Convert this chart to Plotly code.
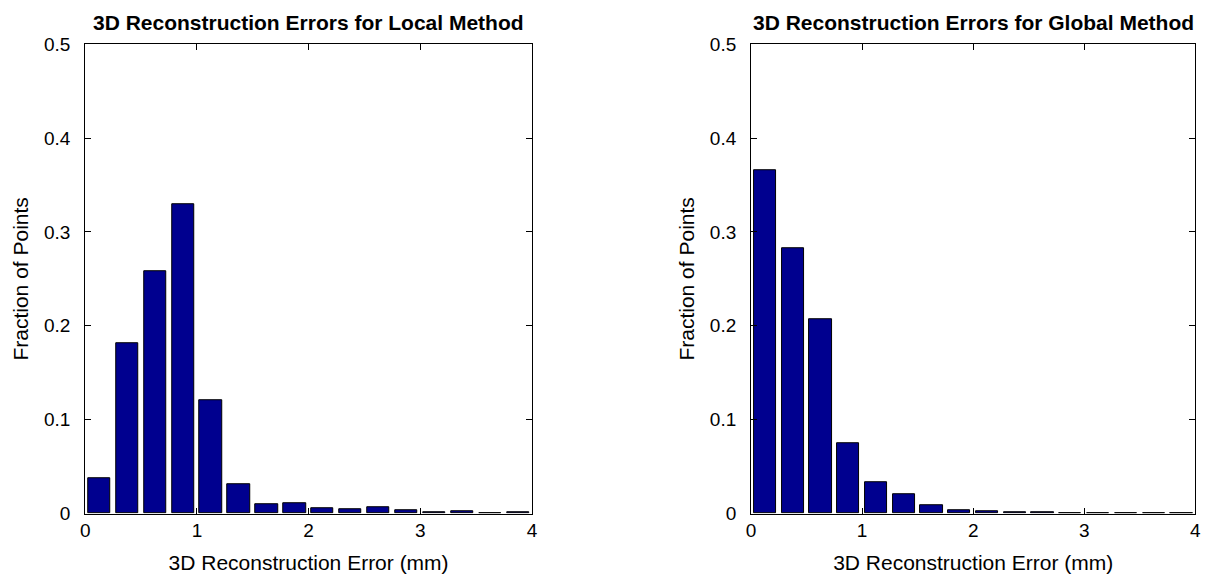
import plotly.graph_objects as go

bin_centers = [0.125, 0.375, 0.625, 0.875, 1.125, 1.375, 1.625, 1.875,
               2.125, 2.375, 2.625, 2.875, 3.125, 3.375, 3.625, 3.875]
local_frac = [0.038, 0.181, 0.258, 0.329, 0.121, 0.031, 0.010, 0.011,
              0.006, 0.005, 0.007, 0.004, 0.001, 0.002, 0.0005, 0.001]
global_frac = [0.366, 0.283, 0.207, 0.075, 0.033, 0.021, 0.009, 0.004,
               0.002, 0.0012, 0.0012, 0.0005, 0.0005, 0.0003, 0.0003, 0.0003]
x_ticks = [0, 1, 2, 3, 4]
y_ticks = [0, 0.1, 0.2, 0.3, 0.4, 0.5]
titles = ["3D Reconstruction Errors for Local Method",
          "3D Reconstruction Errors for Global Method"]
x_title = "3D Reconstruction Error (mm)"
y_title = "Fraction of Points"

FONT = "Liberation Sans, Arial, sans-serif"
BAR = "#00008F"

fig = go.Figure()
fig.add_trace(go.Bar(x=bin_centers, y=local_frac, width=0.2,
                     marker=dict(color=BAR, line=dict(color="black", width=1)),
                     xaxis="x", yaxis="y", showlegend=False))
fig.add_trace(go.Bar(x=bin_centers, y=global_frac, width=0.2,
                     marker=dict(color=BAR, line=dict(color="black", width=1)),
                     xaxis="x2", yaxis="y2", showlegend=False))

ydom = [0.112, 0.953]
xdom1 = [0.060, 0.431]
xdom2 = [0.613, 0.982]


def ax(**kw):
    d = dict(showline=True, linecolor="black", linewidth=1, mirror="ticks",
             ticks="inside", ticklen=6, tickcolor="black", showgrid=False,
             zeroline=False, tickfont=dict(family=FONT, size=19, color="black"))
    d.update(kw)
    return d


ytext = [("0" if v == 0 else f"{v:.1f}") for v in y_ticks]
xtext = [str(v) for v in x_ticks]
tfont = dict(family=FONT, size=21, color="black")

fig.update_layout(
    width=1215, height=579,
    margin=dict(l=0, r=0, t=0, b=0),
    paper_bgcolor="white", plot_bgcolor="white",
    bargap=0,
    xaxis=ax(domain=xdom1, range=[0, 4], tickvals=x_ticks, ticktext=xtext, anchor="y",
             title=dict(text=x_title, standoff=14, font=tfont)),
    yaxis=ax(domain=ydom, range=[0, 0.5], tickvals=y_ticks, ticktext=ytext, anchor="x",
             ticklabelstandoff=10,
             title=dict(text=y_title, standoff=9, font=tfont)),
    xaxis2=ax(domain=xdom2, range=[0, 4], tickvals=x_ticks, ticktext=xtext, anchor="y2",
              title=dict(text=x_title, standoff=14, font=tfont)),
    yaxis2=ax(domain=ydom, range=[0, 0.5], tickvals=y_ticks, ticktext=ytext, anchor="x2",
              ticklabelstandoff=10,
              title=dict(text=y_title, standoff=9, font=tfont)),
    annotations=[
        dict(text=f"<b>{titles[0]}</b>", x=sum(xdom1) / 2, y=ydom[1], xref="paper",
             yref="paper", xanchor="center", yanchor="bottom", yshift=8, showarrow=False,
             font=dict(family=FONT, size=21, color="black")),
        dict(text=f"<b>{titles[1]}</b>", x=sum(xdom2) / 2, y=ydom[1], xref="paper",
             yref="paper", xanchor="center", yanchor="bottom", yshift=8, showarrow=False,
             font=dict(family=FONT, size=21, color="black")),
    ],
)

fig.write_html("out.html")
